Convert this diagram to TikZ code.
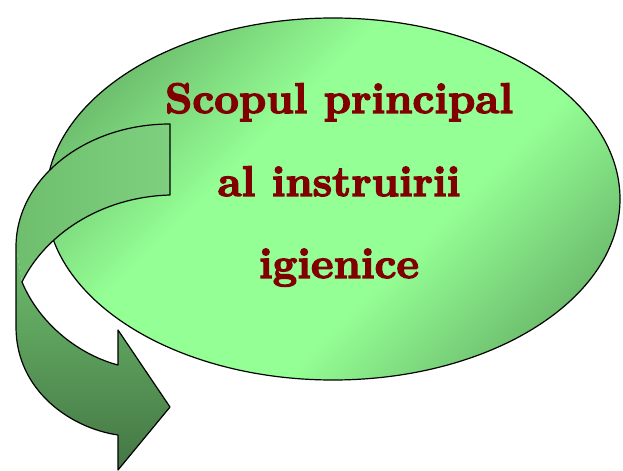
\documentclass[tikz,border=0pt]{standalone}
\usepackage{xcolor}
\usepackage{fontspec}
\usepackage{tikz}
\usetikzlibrary{calc}

\newfontfamily\heavyfont{lmroman10-bold.otf}[FakeBold=3]

\definecolor{LeafLight}{RGB}{148,255,148}
\definecolor{LeafDark}{RGB}{92,160,92}
\definecolor{BandLight}{RGB}{126,208,126}
\definecolor{BandMid}{RGB}{110,190,110}
\definecolor{BandDark}{RGB}{68,118,68}
\definecolor{TitleRed}{RGB}{128,0,0}

\pgfdeclarehorizontalshading{leafshade}{100bp}{%
    color(0bp)=(LeafDark); color(17bp)=(LeafDark); color(40bp)=(LeafLight);
    color(60bp)=(LeafLight); color(83bp)=(LeafDark); color(100bp)=(LeafDark)}

\tikzset{
    goalellipse/.style = {draw = black, line width = 1.2bp, shading = leafshade, shading angle = -45},
    bandline/.style = {draw = black, line width = 1.2bp, line join = round},
    titleline/.style = {TitleRed, font = \fontsize{43}{50}\selectfont\heavyfont, anchor = base, inner sep = 0pt}
}

\begin{document}
\begin{tikzpicture}[x = 1bp, y = -1bp]
    \fill [white] (0, 0) rectangle (623, 471);
    \useasboundingbox (0, 0) rectangle (623, 471);
    % the big ellipse
    \path [goalellipse] (333, 199) ellipse (287 and 181);
    \node [titleline] (line1) at (339, 113) {Scopul principal};
    \node [titleline] (line2) at (339, 196) {al instruirii};
    \node [titleline] (line3) at (339, 278) {igienice};
    % curved arrow, lower part and head
    \shade [top color = BandMid, bottom color = BandDark]
        (16, 247) -- (16, 327) .. controls (16, 390) and (70, 428) .. (118, 435)
        -- (118, 470) -- (170, 407) -- (118, 330) -- (118, 365)
        .. controls (80, 355) and (40, 325) .. (22, 282) -- cycle;
    % curved arrow, upper band
    \shade [left color = BandMid, right color = BandLight]
        (170, 124) .. controls (85, 124) and (16, 179) .. (16, 247)
        -- (22, 282) .. controls (45, 235) and (100, 197) .. (170, 195) -- cycle;
    \draw [bandline]
        (170, 124) .. controls (85, 124) and (16, 179) .. (16, 247)
        -- (16, 327) .. controls (16, 390) and (70, 428) .. (118, 435)
        -- (118, 470) -- (170, 407) -- (118, 330) -- (118, 365)
        .. controls (80, 355) and (40, 325) .. (22, 282)
        .. controls (45, 235) and (100, 197) .. (170, 195) -- cycle;
\end{tikzpicture}
\end{document}
